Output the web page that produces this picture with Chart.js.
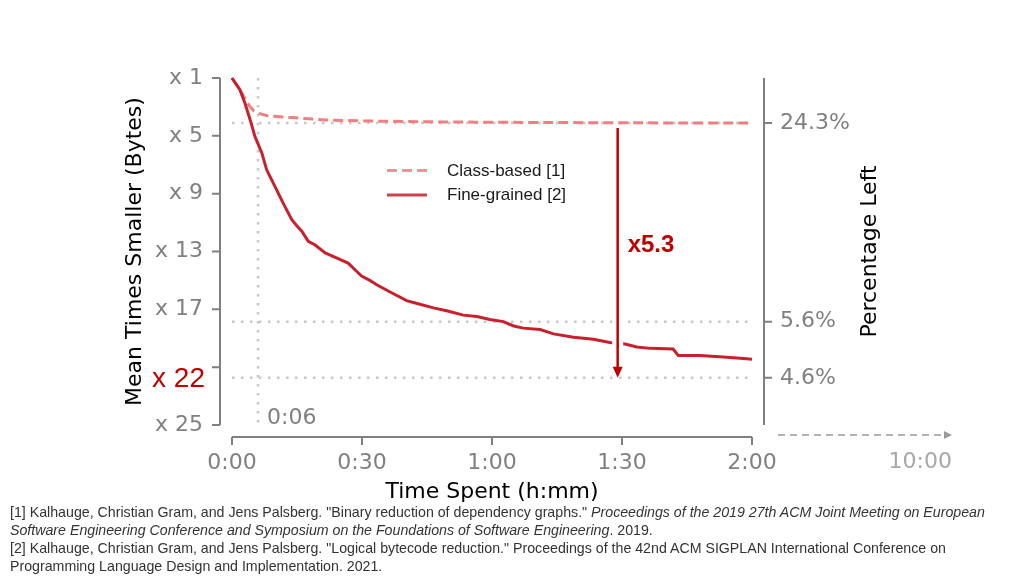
<!DOCTYPE html>
<html>
<head>
  <title>Mean times smaller vs time spent</title>
  <script src="https://cdn.jsdelivr.net/npm/chart.js"></script>
  <style>
    body { margin: 0; background: #fff; }
    #wrap { position: relative; width: 1024px; height: 576px; }
    #notes {
      position: absolute; left: 10px; top: 503px;
      font-family: 'Liberation Sans', Arial, sans-serif; font-size: 14.2px;
      line-height: 18px; color: #333; white-space: nowrap;
    }
  </style>
</head>
<body>
<div id="wrap">
  <canvas id="myChart" width="1024" height="505"></canvas>
  <div id="notes">
    [1] Kalhauge, Christian Gram, and Jens Palsberg. "Binary reduction of dependency graphs." <i>Proceedings of the 2019 27th ACM Joint Meeting on European<br>
    Software Engineering Conference and Symposium on the Foundations of Software Engineering</i>. 2019.<br>
    [2] Kalhauge, Christian Gram, and Jens Palsberg. "Logical bytecode reduction." Proceedings of the 42nd ACM SIGPLAN International Conference on<br>
    Programming Language Design and Implementation. 2021.
  </div>
</div>
<script>
  // time in minutes, values = mean times smaller
  var classTimes  = [0, 2, 3.5, 4.2, 5, 6.1, 8.4, 13.8, 21.5, 29.9, 45, 60, 90, 120];
  var classValues = [1, 1.9, 2.7, 3.0, 3.25, 3.44, 3.63, 3.74, 3.9, 3.97, 4.03, 4.06, 4.1, 4.115];

  var fineTimes  = [0, 1.8, 3, 4.2, 5.3, 6.9, 8, 9.9, 11.8, 13.8, 14.9, 16.1, 17.6, 19.2, 21.5, 24.5, 26.8, 28.5, 29.9,
                    31.8, 33.4, 36.5, 40.3, 42.7, 46.5, 49.5, 53.4, 56.5, 59.5, 62.6, 65, 67.2, 71.1, 74.2, 78.8,
                    83.4, 87.2, 90.7, 93.4, 96.5, 101.8, 103, 108, 113.4, 118, 120];
  var fineValues = [1, 1.8, 2.75, 3.9, 5.05, 6.2, 7.35, 8.5, 9.65, 10.8, 11.2, 11.6, 12.3, 12.55, 13.1, 13.5, 13.8, 14.3, 14.7,
                    15.0, 15.3, 15.8, 16.4, 16.6, 16.9, 17.1, 17.4, 17.5, 17.7, 17.85, 18.15, 18.3, 18.4, 18.7, 18.93,
                    19.07, 19.3, 19.4, 19.6, 19.7, 19.75, 20.2, 20.2, 20.3, 20.4, 20.45];

  var xTicks = [0, 30, 60, 90, 120];
  var yTicks = [1, 5, 9, 13, 17, 21, 25];
  var pctLeft = [24.3, 5.6, 4.6];
  var markTime = 6;      // 0:06 marker
  var arrowTime = 89;    // where the x5.3 arrow sits
  var bestLabel = 'x 22';
  var extLabel = '10:00';

  var GRAY = '#808080';
  var FONT = 'DejaVu Sans';

  function fmtTime(m) {
    var h = Math.floor(m / 60), mm = Math.round(m % 60);
    return h + ':' + (mm < 10 ? '0' : '') + mm;
  }

  var decor = {
    id: 'decor',
    beforeDatasetsDraw: function(chart) {
      var ctx = chart.ctx, a = chart.chartArea, x = chart.scales.x, y = chart.scales.y;
      ctx.save();
      ctx.strokeStyle = '#c8c8c8';
      ctx.lineWidth = 2.5;
      ctx.setLineDash([2.5, 6.5]);
      ctx.beginPath();
      var mx = x.getPixelForValue(markTime);
      ctx.moveTo(mx, a.top);
      ctx.lineTo(mx, a.bottom);
      pctLeft.forEach(function(p) {
        var py = y.getPixelForValue(100 / p);
        ctx.moveTo(a.left, py);
        ctx.lineTo(a.right, py);
      });
      ctx.stroke();
      ctx.restore();
    },
    afterDatasetsDraw: function(chart) {
      var ctx = chart.ctx, x = chart.scales.x, y = chart.scales.y;
      // ratio arrow
      var ax = x.getPixelForValue(arrowTime);
      var y0 = y.getPixelForValue(100 / pctLeft[0]) + 5;
      var y1 = y.getPixelForValue(100 / pctLeft[2]);
      ctx.save();
      ctx.strokeStyle = '#fff';
      ctx.lineWidth = 11;
      ctx.beginPath(); ctx.moveTo(ax, y0); ctx.lineTo(ax, y1 - 12); ctx.stroke();
      ctx.strokeStyle = '#c00000';
      ctx.fillStyle = '#c00000';
      ctx.lineWidth = 2.5;
      ctx.beginPath(); ctx.moveTo(ax, y0); ctx.lineTo(ax, y1 - 8); ctx.stroke();
      ctx.beginPath();
      ctx.moveTo(ax - 5, y1 - 11); ctx.lineTo(ax + 5, y1 - 11); ctx.lineTo(ax, y1); ctx.closePath();
      ctx.fill();
      ctx.font = 'bold 24px "Liberation Sans"';
      ctx.textBaseline = 'alphabetic';
      ctx.textAlign = 'left';
      ctx.fillText('x' + (pctLeft[0] / pctLeft[2]).toFixed(1), ax + 10, (y0 + y1) / 2 - 1);
      ctx.restore();
    },
    afterDraw: function(chart) {
      var ctx = chart.ctx, a = chart.chartArea, x = chart.scales.x, y = chart.scales.y;
      var off = 12, tl = 8;
      ctx.save();
      ctx.strokeStyle = GRAY;
      ctx.lineWidth = 2;
      // left spine
      var lx = a.left - off;
      ctx.beginPath();
      ctx.moveTo(lx, y.getPixelForValue(yTicks[0]));
      ctx.lineTo(lx, y.getPixelForValue(yTicks[yTicks.length - 1]));
      yTicks.forEach(function(v) { var py = y.getPixelForValue(v); ctx.moveTo(lx, py); ctx.lineTo(lx - tl, py); });
      // right spine
      var rx = a.right + off;
      ctx.moveTo(rx, y.getPixelForValue(yTicks[0]));
      ctx.lineTo(rx, y.getPixelForValue(yTicks[yTicks.length - 1]));
      pctLeft.forEach(function(p) { var py = y.getPixelForValue(100 / p); ctx.moveTo(rx, py); ctx.lineTo(rx + tl, py); });
      // bottom spine
      var by = a.bottom + off;
      ctx.moveTo(x.getPixelForValue(xTicks[0]), by);
      ctx.lineTo(x.getPixelForValue(xTicks[xTicks.length - 1]), by);
      xTicks.forEach(function(v) { var px = x.getPixelForValue(v); ctx.moveTo(px, by); ctx.lineTo(px, by + tl); });
      ctx.stroke();

      // continuation arrow to 10:00
      ctx.strokeStyle = '#9a9a9a';
      ctx.fillStyle = '#9a9a9a';
      ctx.lineWidth = 1.5;
      ctx.setLineDash([7, 5]);
      ctx.beginPath(); ctx.moveTo(a.right + 26, by - 2); ctx.lineTo(a.right + 192, by - 2); ctx.stroke();
      ctx.setLineDash([]);
      ctx.beginPath();
      ctx.moveTo(a.right + 192, by - 6); ctx.lineTo(a.right + 200, by - 2); ctx.lineTo(a.right + 192, by + 2);
      ctx.closePath(); ctx.fill();
      ctx.font = '22px "' + FONT + '"';
      ctx.fillStyle = '#a8a8a8';
      ctx.textAlign = 'right';
      ctx.textBaseline = 'middle';
      ctx.fillText(extLabel, a.right + 200, a.bottom + 37);

      // 0:06 marker label
      ctx.fillStyle = GRAY;
      ctx.textAlign = 'left';
      ctx.fillText(fmtTime(markTime), x.getPixelForValue(markTime) + 9, a.bottom - 7);

      // best result label over the x 21 tick
      ctx.fillStyle = '#c00000';
      ctx.font = '28px "Liberation Sans"';
      ctx.textAlign = 'right';
      ctx.textBaseline = 'alphabetic';
      ctx.fillText(bestLabel, a.left - 27, y.getPixelForValue(100 / pctLeft[2]) + 9.5);

      // right axis title
      ctx.fillStyle = '#000';
      ctx.font = '22px "' + FONT + '"';
      ctx.textAlign = 'center';
      ctx.textBaseline = 'middle';
      ctx.translate(870, (a.top + a.bottom) / 2);
      ctx.rotate(-Math.PI / 2);
      ctx.fillText('Percentage Left', 0, 0);
      ctx.restore();

      // legend
      ctx.save();
      ctx.globalAlpha = 0.85;
      var ly = 170.5;
      [1, 0].forEach(function(i) {
        var ds = chart.data.datasets[i];
        ctx.strokeStyle = ds.borderColor;
        ctx.lineWidth = 3;
        ctx.setLineDash(ds.borderDash || []);
        ctx.beginPath(); ctx.moveTo(387, ly); ctx.lineTo(427, ly); ctx.stroke();
        ly += 24.5;
      });
      ctx.globalAlpha = 1;
      ctx.fillStyle = '#1a1a1a';
      ctx.font = '17px "Liberation Sans"';
      ctx.textAlign = 'left';
      ctx.textBaseline = 'alphabetic';
      ctx.fillText(chart.data.datasets[1].label, 447, 176);
      ctx.fillText(chart.data.datasets[0].label, 447, 200);
      ctx.restore();
    }
  };

  Chart.defaults.font.family = FONT;

  var ctx = document.getElementById('myChart').getContext('2d');
  var myChart = new Chart(ctx, {
    type: 'line',
    data: {
      datasets: [{
        label: 'Fine-grained [2]',
        data: fineTimes.map(function(t, i) { return {x: t, y: fineValues[i]}; }),
        borderColor: '#c8202c',
        borderWidth: 3,
        pointRadius: 0,
        tension: 0,
        clip: false,
        order: 0
      }, {
        label: 'Class-based [1]',
        data: classTimes.map(function(t, i) { return {x: t, y: classValues[i]}; }),
        borderColor: '#f08080',
        borderWidth: 3,
        borderDash: [10, 5],
        pointRadius: 0,
        tension: 0,
        clip: false,
        order: 1
      }]
    },
    options: {
      responsive: false,
      animation: false,
      layout: { padding: { top: 78, left: 0, right: 0, bottom: 0 } },
      plugins: { legend: { display: false }, tooltip: { enabled: false } },
      scales: {
        x: {
          type: 'linear',
          min: 0,
          max: 120,
          afterFit: function(s) { s.height = 80; },
          afterBuildTicks: function(s) { s.ticks = xTicks.map(function(v) { return {value: v}; }); },
          grid: { display: false, drawTicks: false },
          border: { display: false },
          ticks: { padding: 25, color: GRAY, font: { size: 22 }, callback: function(v) { return fmtTime(v); } },
          title: { display: true, text: 'Time Spent (h:mm)', color: '#000', font: { size: 22 }, padding: { top: 0, bottom: 0 } }
        },
        y: {
          type: 'linear',
          position: 'left',
          reverse: true,
          min: 1,
          max: 25,
          afterFit: function(s) { s.width = 232; },
          afterBuildTicks: function(s) { s.ticks = yTicks.map(function(v) { return {value: v}; }); },
          grid: { display: false, drawTicks: false },
          border: { display: false },
          ticks: { padding: 29, color: GRAY, font: { size: 22 }, callback: function(v) { return v === 21 ? '' : 'x ' + v; } },
          title: { display: true, text: 'Mean Times Smaller (Bytes)', color: '#000', font: { size: 22 }, padding: { top: 122, bottom: 0 } }
        },
        y2: {
          type: 'linear',
          position: 'right',
          reverse: true,
          min: 1,
          max: 25,
          afterFit: function(s) { s.width = 272; },
          afterBuildTicks: function(s) { s.ticks = pctLeft.map(function(p) { return {value: 100 / p}; }); },
          grid: { display: false, drawTicks: false },
          border: { display: false },
          ticks: { padding: 28, color: GRAY, font: { size: 22 }, callback: function(v) { return (100 / v).toFixed(1) + '%'; } }
        }
      }
    },
    plugins: [decor]
  });
</script>
</body>
</html>
